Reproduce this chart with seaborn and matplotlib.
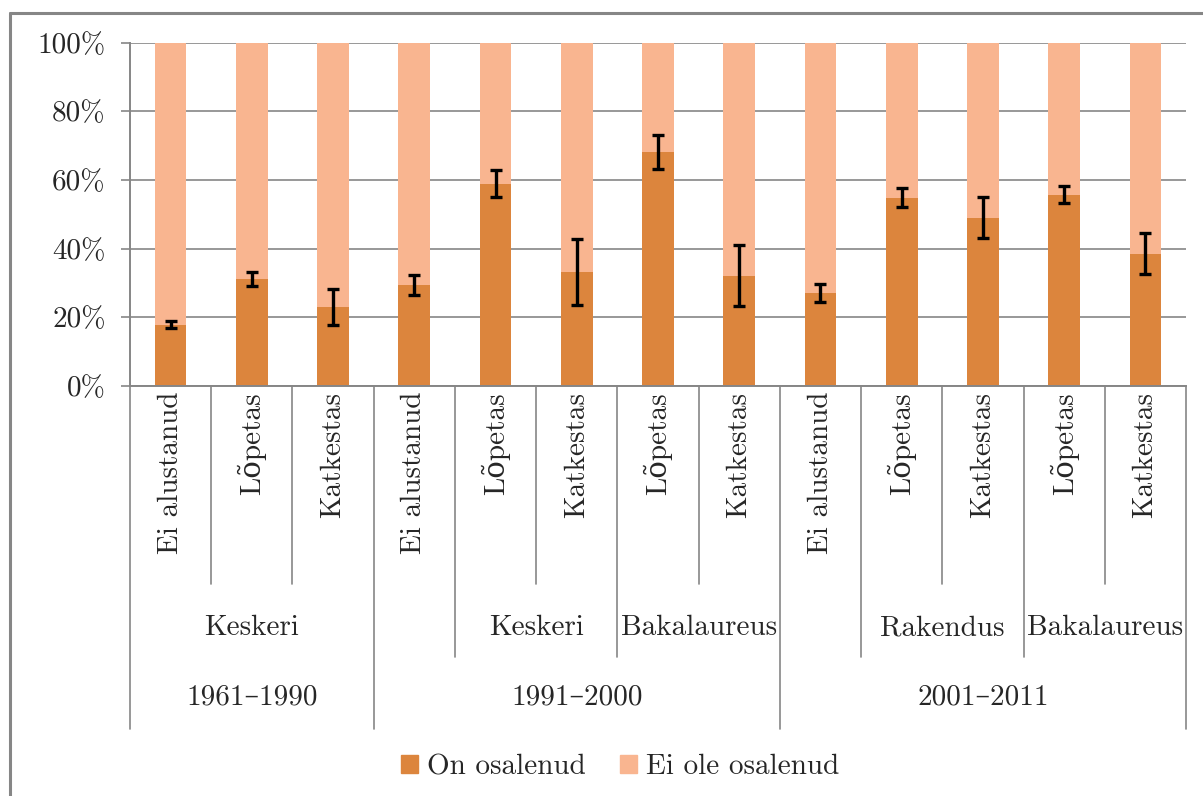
import pandas as pd
import matplotlib.pyplot as plt
import seaborn as sns
from matplotlib.patches import Patch
from matplotlib.lines import Line2D
from matplotlib.transforms import blended_transform_factory

# Andmed (loetud jooniselt, %)
leaf_labels = ["Ei alustanud", "Lõpetas", "Katkestas",
               "Ei alustanud", "Lõpetas", "Katkestas", "Lõpetas", "Katkestas",
               "Ei alustanud", "Lõpetas", "Katkestas", "Lõpetas", "Katkestas"]
on_osalenud = [17.8, 31.2, 23.0, 29.4, 58.9, 33.2, 68.2, 32.1, 27.1, 54.8, 49.0, 55.7, 38.5]
vead = [1.0, 2.0, 5.1, 2.8, 4.0, 9.7, 5.0, 8.9, 2.7, 2.7, 6.0, 2.5, 6.0]

# (silt, esimene, viimane) kategooria indeksid
level2 = [("Keskeri", 0, 2), ("", 3, 3), ("Keskeri", 4, 5), ("Bakalaureus", 6, 7),
          ("", 8, 8), ("Rakendus", 9, 10), ("Bakalaureus", 11, 12)]
level3 = [("1961–1990", 0, 2), ("1991–2000", 3, 7), ("2001–2011", 8, 12)]

dark = "#DC853D"
light = "#F9B590"
grid_c = "#868686"

sns.set_style("white")
plt.rcParams['font.family'] = ['cmr10', 'DejaVu Serif']
plt.rcParams['axes.formatter.use_mathtext'] = True
fs = 21

df = pd.DataFrame({"id": [str(i) for i in range(len(leaf_labels))],
                   "on": on_osalenud, "kokku": [100] * len(leaf_labels)})

fig = plt.figure(figsize=(12.03, 7.96), dpi=100)
W, H = 1203, 796
ax = fig.add_axes([130 / W, 1 - 386 / H, (1186 - 130) / W, (386 - 42.5) / H])

sns.barplot(data=df, x="id", y="kokku", color=light, width=0.39, saturation=1,
            linewidth=0, ax=ax)
sns.barplot(data=df, x="id", y="on", color=dark, width=0.39, saturation=1,
            linewidth=0, ax=ax)
ax.errorbar(range(len(on_osalenud)), on_osalenud, yerr=vead, fmt="none",
            ecolor="black", elinewidth=2.4, capsize=4, capthick=2.4, zorder=5)

ax.set_xlim(-0.5, len(leaf_labels) - 0.5)
ax.set_ylim(0, 100)
ax.set_yticks(range(0, 101, 20))
ax.set_yticklabels([f"{v}%" for v in range(0, 101, 20)], fontsize=fs)
ax.yaxis.grid(True, color=grid_c, lw=1.2)
ax.set_axisbelow(True)
ax.tick_params(axis="y", length=6.5, color=grid_c, width=1.2, pad=11, direction="out", left=True)
ax.set_xticks([])
ax.set_xlabel("")
ax.set_ylabel("")
for s in ["top", "right"]:
    ax.spines[s].set_visible(False)
for s in ["left", "bottom"]:
    ax.spines[s].set_color(grid_c)
    ax.spines[s].set_linewidth(1.4)

# mitmetasandiline kategooriatelg
tr = blended_transform_factory(ax.transData, fig.transFigure)
fy = lambda px: 1 - px / H

for i, lab in enumerate(leaf_labels):
    ax.text(i, fy(392), lab, rotation=90, ha="center", va="top", fontsize=fs, transform=tr)
for lab, a, b in level2:
    if lab:
        ax.text((a + b) / 2, fy(628), lab, ha="center", va="center", fontsize=fs, transform=tr)
for lab, a, b in level3:
    ax.text((a + b) / 2, fy(697), lab, ha="center", va="center", fontsize=fs, transform=tr)

l3_bounds = {a for _, a, _ in level3} | {len(leaf_labels)}
l2_bounds = {a for _, a, _ in level2} - l3_bounds
for k in range(len(leaf_labels) + 1):
    if k in l3_bounds:
        end = 729
    elif k in l2_bounds:
        end = 657
    else:
        end = 584
    ax.add_line(Line2D([k - 0.5, k - 0.5], [fy(386), fy(end)], color=grid_c, lw=1.2,
                       transform=tr, clip_on=False))

# raam
fig.add_artist(Line2D([10 / W, 10 / W], [fy(13), 0], color=grid_c, lw=2.2, transform=fig.transFigure))
fig.add_artist(Line2D([10 / W, 1], [fy(13), fy(13)], color=grid_c, lw=2.2, transform=fig.transFigure))

handles = [Patch(color=dark, label="On osalenud"), Patch(color=light, label="Ei ole osalenud")]
fig.legend(handles=handles, loc="center", bbox_to_anchor=(620 / W, fy(767)), ncol=2,
           frameon=False, fontsize=fs, handlelength=0.6, handleheight=0.6,
           handletextpad=0.3, columnspacing=1.15)

fig.savefig("out.png", dpi=100)
